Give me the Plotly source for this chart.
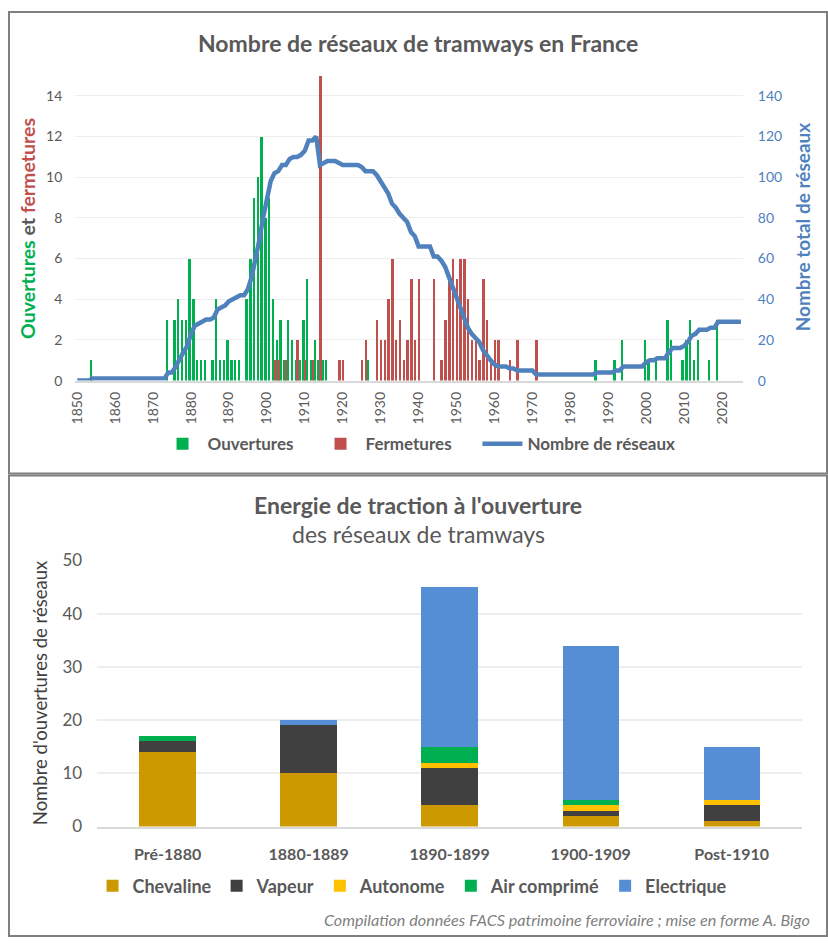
import plotly.graph_objects as go

# --- data: top chart (ouvertures / fermetures par an, total des réseaux) ---
open_years = [1854, 1874, 1876, 1877, 1878, 1879, 1880, 1881, 1882, 1883, 1884,
              1886, 1887, 1888, 1889, 1890, 1891, 1892, 1893, 1895, 1896, 1897,
              1898, 1899, 1900, 1901, 1902, 1903, 1904, 1905, 1906, 1907, 1908,
              1909, 1910, 1911, 1912, 1913, 1914, 1915, 1916, 1927, 1987, 1992,
              1994, 2000, 2001, 2003, 2006, 2007, 2010, 2011, 2012, 2013, 2014,
              2017, 2019]
open_counts = [1, 3, 3, 4, 3, 3, 6, 4, 1, 1, 1,
               1, 4, 1, 1, 2, 1, 1, 1, 4, 6, 9,
               10, 12, 8, 9, 4, 2, 3, 1, 3, 2, 1,
               1, 3, 5, 1, 2, 1, 1, 1, 1, 1, 1,
               2, 2, 1, 1, 3, 2, 1, 2, 3, 1, 2,
               1, 3]

close_years = [1902, 1903, 1905, 1908, 1910, 1912, 1914, 1919, 1920, 1925, 1926,
               1929, 1930, 1931, 1932, 1933, 1934, 1935, 1936, 1937, 1938, 1939,
               1940, 1944, 1946, 1947, 1948, 1949, 1950, 1951, 1952, 1953, 1954,
               1955, 1956, 1957, 1958, 1959, 1960, 1961, 1964, 1966, 1971]
close_counts = [1, 1, 1, 2, 1, 1, 15, 1, 1, 1, 2,
                3, 2, 2, 4, 6, 2, 3, 1, 2, 5, 2,
                5, 5, 1, 3, 5, 6, 5, 6, 6, 4, 2,
                2, 1, 5, 3, 1, 2, 2, 1, 2, 2]

years = list(range(1850, 2026))
totals = [0, 0, 0, 0, 1, 1, 1, 1, 1, 1,
          1, 1, 1, 1, 1, 1, 1, 1, 1, 1,
          1, 1, 1, 1, 4, 4, 7, 11, 14, 17,
          23, 27, 28, 29, 30, 30, 31, 35, 36, 37,
          39, 40, 41, 42, 42, 45, 51, 59, 69, 80,
          89, 98, 102, 103, 106, 106, 109, 110, 110, 111,
          113, 118, 118, 120, 106, 107, 108, 108, 108, 107,
          106, 106, 106, 106, 106, 105, 103, 103, 103, 101,
          98, 96, 92, 87, 85, 82, 80, 78, 73, 71,
          66, 66, 66, 66, 61, 61, 59, 56, 51, 46,
          41, 35, 30, 26, 23, 21, 19, 15, 12, 10,
          8, 7, 7, 7, 6, 6, 5, 5, 5, 5,
          5, 3, 3, 3, 3, 3, 3, 3, 3, 3,
          3, 3, 3, 3, 3, 3, 3, 4, 4, 4,
          4, 4, 5, 5, 7, 7, 7, 7, 7, 7,
          9, 10, 10, 11, 11, 11, 14, 16, 16, 16,
          17, 19, 22, 23, 25, 25, 25, 26, 26, 29,
          29, 29, 29, 29, 29, 29]

# --- data: bottom chart (énergie de traction) ---
periods = ["Pré-1880", "1880-1889", "1890-1899", "1900-1909", "Post-1910"]
chevaline = [14, 10, 4, 2, 1]
vapeur = [2, 9, 7, 1, 3]
autonome = [0, 0, 1, 1, 1]
air_comprime = [1, 0, 3, 1, 0]
electrique = [0, 1, 30, 29, 10]

FONT = "Lato"
GREY = "#595959"
GREEN = "#00B050"
RED = "#C0504D"
BLUE = "#4F81BD"

W, H = 828, 947


def py(px):
    # pixel row from top -> paper fraction
    return 1 - px / H


fig = go.Figure()

fig.add_trace(go.Bar(x=open_years, y=open_counts, name="Ouvertures",
                     marker=dict(color=GREEN, line=dict(width=0)),
                     width=0.42, offset=-0.47, xaxis="x", yaxis="y",
                     legend="legend"))
fig.add_trace(go.Bar(x=close_years, y=close_counts, name="Fermetures",
                     marker=dict(color=RED, line=dict(width=0)),
                     width=0.42, offset=0.0, xaxis="x", yaxis="y2",
                     legend="legend"))
fig.add_trace(go.Scatter(x=years, y=totals, name="Nombre de réseaux",
                         mode="lines", line=dict(color=BLUE, width=4.5),
                         xaxis="x", yaxis="y3", legend="legend3"))

energies = [
    ("Chevaline", chevaline, "#CC9900"),
    ("Vapeur", vapeur, "#404040"),
    ("Autonome", autonome, "#FFC000"),
    ("Air comprimé", air_comprime, "#00B050"),
    ("Electrique", electrique, "#558ED5"),
]
for name, vals, col in energies:
    fig.add_trace(go.Bar(x=periods, y=vals, name=name,
                         marker=dict(color=col, line=dict(width=0)),
                         width=0.4, xaxis="x2", yaxis="y4", legend="legend2"))

annotations = [
    dict(text="<b>Nombre de réseaux de tramways en France</b>", x=0.5, y=py(33),
         font=dict(size=23, color=GREY)),
    dict(text="<b><span style='color:%s'>Ouvertures</span> et "
              "<span style='color:%s'>fermetures</span></b>" % (GREEN, RED),
         x=19 / W, y=py(222), textangle=-90, font=dict(size=19.5, color=GREY)),
    dict(text="<b>Nombre total de réseaux</b>", x=802 / W, y=py(221),
         textangle=-90, font=dict(size=19, color=BLUE)),
    dict(text="<b>Energie de traction à l'ouverture</b>", x=0.5, y=py(505),
         font=dict(size=23, color=GREY)),
    dict(text="des réseaux de tramways", x=0.5, y=py(535),
         font=dict(size=23, color=GREY)),
    dict(text="Nombre d'ouvertures de réseaux", x=32 / W, y=py(698),
         textangle=-90, font=dict(size=18.5, color="#404040")),
    dict(text="<i>Compilation données FACS patrimoine ferroviaire ; mise en forme A. Bigo</i>",
         x=812 / W, y=py(929), xanchor="right", font=dict(size=16.2, color="#7F7F7F")),
]
for a in annotations:
    a.update(xref="paper", yref="paper", showarrow=False)
    a.setdefault("xanchor", "center")
    a.setdefault("yanchor", "middle")

shapes = [
    dict(type="rect", xref="paper", yref="paper", x0=1 / W, x1=1 - 1 / W,
         y0=py(473), y1=1 - 1 / H, line=dict(color="#7F7F7F", width=2)),
    dict(type="rect", xref="paper", yref="paper", x0=1 / W, x1=1 - 1 / W,
         y0=1 / H, y1=py(475), line=dict(color="#7F7F7F", width=2)),
]

legend_common = dict(orientation="h", yanchor="middle", bgcolor="rgba(0,0,0,0)",
                     traceorder="normal")

fig.update_layout(
    width=W, height=H,
    margin=dict(l=0, r=0, t=0, b=0),
    paper_bgcolor="white", plot_bgcolor="white",
    font=dict(family=FONT, color=GREY),
    barmode="stack",
    showlegend=True,
    xaxis=dict(domain=[68 / W, 742 / W], anchor="y", range=[1849.5, 2025.5],
               tickvals=list(range(1850, 2021, 10)), tickangle=-90,
               tickfont=dict(size=14, color=GREY), showgrid=False,
               zeroline=False, showline=True, linecolor="#D9D9D9", linewidth=1.5,
               ticklabelstandoff=4),
    yaxis=dict(domain=[py(378), py(66)], anchor="x", range=[0, 15],
               tickvals=list(range(0, 15, 2)), tickfont=dict(size=14, color=GREY),
               showgrid=True, gridcolor="#EDEDED", gridwidth=1.3, zeroline=False,
               ticklabelstandoff=12),
    yaxis2=dict(overlaying="y", anchor="x", range=[0, 15], visible=False),
    yaxis3=dict(overlaying="y", anchor="x", side="right", range=[0, 150],
                tickvals=list(range(0, 141, 20)), tickfont=dict(size=14, color=BLUE),
                showgrid=False, zeroline=False, ticklabelstandoff=14),
    xaxis2=dict(domain=[90 / W, 802 / W], anchor="y4", type="category",
                range=[-0.5, 4.5], tickfont=dict(size=16, color=GREY, weight="bold"),
                showline=True, linecolor="#D9D9D9", linewidth=2, showgrid=False,
                ticklabelstandoff=12),
    yaxis4=dict(domain=[py(834), py(562)], anchor="x2", range=[0, 50], dtick=10,
                tickfont=dict(size=17, color=GREY), showgrid=True,
                gridcolor="#EDEDED", gridwidth=1.5, zeroline=False,
                ticklabelstandoff=14),
    legend=dict(legend_common, x=151 / W, xanchor="left", y=py(443),
                font=dict(size=17, color=GREY, weight="bold"),
                itemwidth=40, entrywidth=103, entrywidthmode="pixels"),
    legend3=dict(legend_common, x=474 / W, xanchor="left", y=py(443),
                 font=dict(size=17, color=GREY, weight="bold"), itemwidth=40),
    legend2=dict(legend_common, x=408 / W, xanchor="center", y=py(895),
                 font=dict(size=18, color=GREY, weight="bold")),
    annotations=annotations,
    shapes=shapes,
)

# the page is exactly the figure: no default body margin around it
fig.write_html("out.html", config={"displayModeBar": False},
               post_script="document.body.style.margin='0';"
                           "document.body.style.overflow='hidden';")
